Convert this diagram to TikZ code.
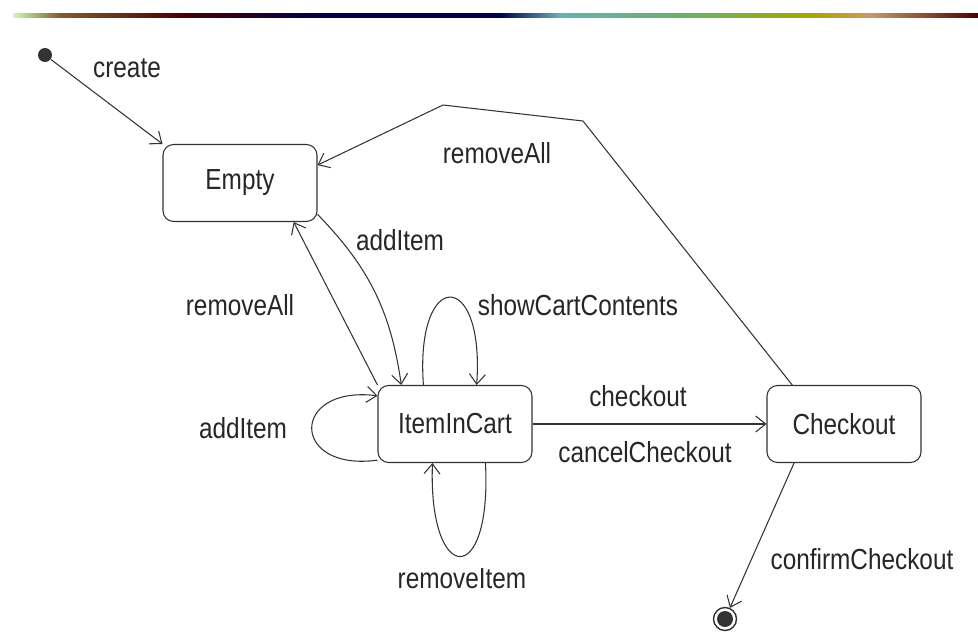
\documentclass[tikz,border=0pt]{standalone}
\usepackage{fontspec}
\setmainfont[FakeStretch=0.84]{Liberation Sans}
\usetikzlibrary{arrows.meta}

\definecolor{ink}{HTML}{333333}

\tikzset{
    state/.style={draw=ink, rounded corners=6pt, minimum width=3.08cm, minimum height=1.54cm, text=black!85},
    lbl/.style={text=black!85},
}

\begin{document}
\begin{tikzpicture}[x=0.02cm, y=-0.02cm, ->, >={Straight Barb[length=2mm,width=3.2mm]}, ink, line width=0.6pt, font=\fontsize{16.5}{19}\selectfont]
    \useasboundingbox (0,0) rectangle (978,633);

    % rule along the top
    \shade[left color=yellow!30!green!30, right color=brown!70!black] (13,13) rectangle (60,17);
    \shade[left color=brown!70!black, right color=red!30!black] (60,13) rectangle (180,17);
    \shade[left color=red!30!black, right color=blue!30!black] (180,13) rectangle (320,17);
    \shade[left color=blue!30!black, right color=blue!30!black] (320,13) rectangle (500,17);
    \shade[left color=blue!30!black, right color=teal!60] (500,13) rectangle (560,17);
    \shade[left color=teal!60, right color=green!50!black!60] (560,13) rectangle (690,17);
    \shade[left color=green!50!black!60, right color=olive!70] (690,13) rectangle (810,17);
    \shade[left color=olive!70, right color=brown!80] (810,13) rectangle (870,17);
    \shade[left color=brown!80, right color=red!30!black] (870,13) rectangle (978,17);

    \node[circle, fill=ink, inner sep=0, minimum size=0.28cm] (init) at (45,55) {};
    \node[state] (empty) at (240,183) {Empty};
    \node[state] (cart) at (455,424) {ItemInCart};
    \node[state] (checkout) at (844,424) {Checkout};
    \node[circle, draw=ink, inner sep=0, minimum size=0.46cm, line width=0.8pt,
          path picture={\fill[ink] (path picture bounding box.center) circle (0.16cm);}] (final) at (725,619) {};

    \draw (init) -- (empty.north west);
    \node[lbl] (l-create) at (127,68) {create};

    \coordinate (k1) at (583,121);
    \coordinate (k2) at (443,105);
    \draw (checkout.143) -- (k1) -- (k2) -- (empty.13);
    \node[lbl] (l-removeall1) at (497,153) {removeAll};

    \draw (empty.-22) to[bend left=18] (cart.144);
    \node[lbl] (l-additem1) at (400,240) {addItem};

    \draw (cart.north west) -- (empty.-36);
    \node[lbl] (l-removeall2) at (240,305) {removeAll};

    \draw (cart.129) .. controls (415,268) and (485,268) .. (cart.61);
    \node[lbl] (l-show) at (578,305) {showCartContents};

    \draw (cart.205) .. controls (290,472) and (290,385) .. (cart.160);
    \node[lbl] (l-additem2) at (243,428) {addItem};

    \draw (cart.-52) .. controls (492,590) and (428,585) .. (cart.-120);
    \node[lbl] (l-removeitem) at (462,579) {removeItem};

    \draw (cart.east) -- (checkout.west);
    \node[lbl] (l-checkout) at (638,396) {checkout};
    \node[lbl] (l-cancel) at (645,452) {cancelCheckout};

    \draw (checkout.-142) -- (final);
    \node[lbl] (l-confirm) at (862,559) {confirmCheckout};
\end{tikzpicture}
\end{document}
